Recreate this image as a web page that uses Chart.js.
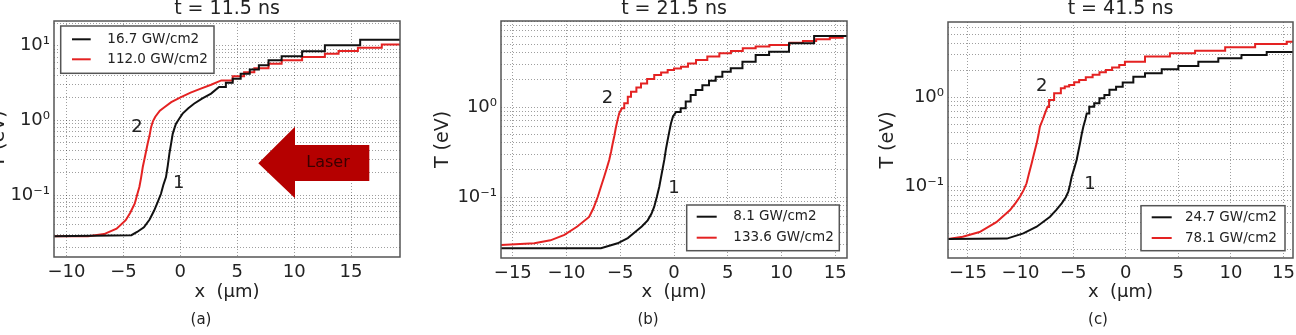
<!DOCTYPE html>
<html><head><meta charset="utf-8">
<script src="https://cdn.jsdelivr.net/npm/chart.js@4.4.1/dist/chart.umd.min.js"></script>
<style>
html,body{margin:0;padding:0;background:#fff;width:1296px;height:335px;overflow:hidden;position:relative;}
canvas{position:absolute;top:0;}
</style></head><body>
<canvas id="ca" width="442" height="335" style="left:-12px"></canvas>
<canvas id="cb" width="440" height="335" style="left:430px"></canvas>
<canvas id="cc" width="426" height="335" style="left:870px"></canvas>
<script>
// ---------- data ----------
const titles = ['t = 11.5 ns', 't = 21.5 ns', 't = 41.5 ns'];
const subLabels = ['(a)', '(b)', '(c)'];
const xAxisLabel = 'x  (\u03bcm)';
const yAxisLabel = 'T (eV)';

const legendA = ['16.7 GW/cm2', '112.0 GW/cm2'];
const legendB = ['8.1 GW/cm2', '133.6 GW/cm2'];
const legendC = ['24.7 GW/cm2', '78.1 GW/cm2'];

const xTicksA = [-10, -5, 0, 5, 10, 15];
const xTicksBC = [-15, -10, -5, 0, 5, 10, 15];

// panel (a)
const xA1 = [-11.1, -4.3, -3.8, -3.2, -2.7, -2.3, -2.0, -1.7, -1.5, -1.26, -1.1, -0.96, -0.8, -0.67, -0.5, -0.38, -0.1, 0.2, 0.7, 1.2, 1.9, 2.7, 3.4, 4.0, 4.6, 5.3, 6.1, 6.9, 7.75, 8.9, 10.7, 12.7, 15.8, 19.3];
const yA1 = [0.028, 0.029, 0.032, 0.037, 0.047, 0.062, 0.08, 0.104, 0.135, 0.174, 0.25, 0.36, 0.5, 0.66, 0.8, 0.9, 1.05, 1.23, 1.45, 1.67, 1.95, 2.28, 2.8, 3.2, 3.6, 4.2, 4.8, 5.45, 6.36, 7.2, 8.4, 10.1, 12.0, 12.0];
const stepA1 = 4.0;
const xA2 = [-11.1, -8.1, -6.7, -5.6, -4.8, -4.4, -4.0, -3.8, -3.6, -3.45, -3.3, -3.1, -2.87, -2.7, -2.57, -2.4, -2.2, -1.8, -1.4, -0.8, 0.06, 0.9, 1.8, 2.7, 3.6, 4.6, 5.6, 6.5, 7.75, 8.9, 10.7, 12.7, 13.9, 15.6, 17.7, 19.3];
const yA2 = [0.028, 0.028, 0.030, 0.0355, 0.046, 0.058, 0.077, 0.10, 0.128, 0.17, 0.237, 0.33, 0.49, 0.63, 0.81, 0.98, 1.12, 1.35, 1.5, 1.75, 2.05, 2.35, 2.66, 3.0, 3.43, 3.9, 4.4, 5.0, 5.74, 6.36, 7.03, 7.8, 8.47, 9.4, 10.4, 10.4];
const stepA2 = 4.6;

// panel (b)
const xB1 = [-16.1, -6.8, -5.25, -4.3, -3.7, -3.0, -2.45, -2.1, -1.84, -1.6, -1.37, -1.15, -0.9, -0.75, -0.59, -0.43, -0.28, -0.1, 0.19, 0.62, 1.09, 1.55, 2.02, 2.64, 3.26, 3.88, 4.5, 5.28, 6.37, 7.6, 8.85, 10.7, 13.04, 16.1];
const yB1 = [0.027, 0.027, 0.0306, 0.035, 0.04, 0.047, 0.055, 0.065, 0.078, 0.1, 0.13, 0.18, 0.26, 0.34, 0.43, 0.54, 0.66, 0.78, 0.88, 0.97, 1.15, 1.36, 1.55, 1.75, 1.96, 2.17, 2.47, 2.69, 3.19, 3.78, 4.12, 5.1, 6.15, 6.15];
const stepB1 = 0.62;
const xB2 = [-16.1, -13.0, -11.5, -10.2, -9.0, -7.9, -7.5, -7.1, -6.8, -6.5, -6.25, -6.03, -5.85, -5.71, -5.55, -5.4, -5.25, -5.1, -4.85, -4.63, -4.3, -4.0, -3.5, -3.07, -2.5, -1.84, -1.2, -0.59, 0.0, 0.65, 1.3, 2.05, 3.1, 4.22, 5.3, 6.4, 7.6, 8.88, 10.75, 12.0, 13.23, 14.5, 15.7, 16.1];
const yB2 = [0.0293, 0.0306, 0.033, 0.038, 0.047, 0.06, 0.075, 0.10, 0.13, 0.168, 0.21, 0.258, 0.32, 0.39, 0.48, 0.60, 0.72, 0.85, 0.97, 1.1, 1.3, 1.48, 1.65, 1.83, 2.05, 2.27, 2.42, 2.57, 2.68, 2.8, 3.05, 3.33, 3.65, 3.95, 4.2, 4.49, 4.7, 4.89, 5.18, 5.4, 5.65, 5.9, 6.15, 6.15];
const stepB2 = -4.63;

// panel (c)
const xC1 = [-16.9, -11.3, -9.74, -8.47, -7.2, -6.6, -6.09, -5.7, -5.46, -5.3, -5.14, -4.9, -4.67, -4.5, -4.35, -4.2, -4.03, -3.85, -3.71, -3.47, -3.0, -2.5, -2.03, -1.55, -0.92, -0.29, 0.72, 1.83, 3.42, 5.0, 6.9, 8.8, 11.0, 13.4, 15.9];
const yC1 = [0.0259, 0.0262, 0.030, 0.0356, 0.046, 0.055, 0.065, 0.076, 0.088, 0.105, 0.129, 0.16, 0.199, 0.25, 0.305, 0.38, 0.47, 0.56, 0.66, 0.785, 0.857, 0.975, 1.06, 1.21, 1.31, 1.46, 1.70, 1.85, 2.06, 2.24, 2.50, 2.73, 2.97, 3.21, 3.21];
const stepC1 = -3.47;
const xC2 = [-16.9, -15.5, -13.9, -12.3, -11.0, -10.5, -10.06, -9.7, -9.43, -9.2, -8.95, -8.7, -8.47, -8.3, -8.16, -7.9, -7.68, -7.45, -7.29, -6.81, -6.17, -5.8, -5.38, -4.9, -4.43, -3.8, -3.15, -2.5, -1.89, -1.3, -0.62, -0.08, 1.83, 4.2, 6.59, 9.45, 12.3, 15.3, 15.9];
const yC2 = [0.0259, 0.0275, 0.031, 0.040, 0.0547, 0.065, 0.077, 0.092, 0.109, 0.14, 0.182, 0.24, 0.305, 0.38, 0.47, 0.56, 0.66, 0.78, 0.93, 1.11, 1.26, 1.32, 1.37, 1.47, 1.56, 1.67, 1.78, 1.9, 2.02, 2.15, 2.3, 2.5, 2.85, 3.1, 3.32, 3.62, 3.95, 4.19, 4.19];
const stepC2 = -7.29;

// ---------- styling / layout ----------
const FONT = '"DejaVu Sans", "Liberation Sans", sans-serif';
const TXT = '#222';
const BLACK = '#111';
const RED = '#e42222';
const SUP = {'-': '\u207b', '0': '\u2070', '1': '\u00b9', '2': '\u00b2', '3': '\u00b3'};

function fmtX(v) { return v < 0 ? '\u2212' + Math.abs(v) : String(v); }
function fmtY(v) {
  const e = Math.round(Math.log10(v));
  if (Math.abs(v - Math.pow(10, e)) > 1e-9 * v) return '';
  return '10' + String(e).split('').map(c => SUP[c]).join('');
}
function logTicks(min, max) {
  const out = [];
  for (let e = -3; e <= 2; e++) for (let m = 1; m <= 9; m++) {
    const v = m * Math.pow(10, e);
    if (v >= min * 0.9999 && v <= max * 1.0001) out.push({value: v});
  }
  return out;
}
// points; from stepFrom on, the profile is drawn as a staircase (zone values)
function buildData(xs, ys, stepFrom) {
  const d = [];
  for (let i = 0; i < xs.length; i++) {
    if (i > 0 && xs[i] >= stepFrom - 1e-9) d.push({x: xs[i], y: ys[i - 1]});
    d.push({x: xs[i], y: ys[i]});
  }
  return d;
}

const decor = {
  id: 'decor',
  afterDraw(chart, args, o) {
    const {ctx, chartArea: ca, scales} = chart;
    const cx = (ca.left + ca.right) / 2;
    ctx.save();
    ctx.strokeStyle = '#555'; ctx.lineWidth = 1.5;
    ctx.strokeRect(ca.left, ca.top, ca.right - ca.left, ca.bottom - ca.top);
    ctx.fillStyle = TXT; ctx.textAlign = 'center'; ctx.textBaseline = 'middle';
    ctx.font = '19px ' + FONT;
    ctx.fillText(o.title, cx, o.titleY);
    ctx.font = '15px ' + FONT;
    ctx.fillText(o.sub, cx + o.subDx, o.subY);
    ctx.font = '18px ' + FONT;
    o.marks.forEach(m => ctx.fillText(m.t, scales.x.getPixelForValue(m.x), scales.y.getPixelForValue(m.y)));
    if (o.arrow) {
      const a = o.arrow, L = ca.left, T = ca.top;
      ctx.fillStyle = '#b50000';
      ctx.beginPath();
      ctx.moveTo(L + a.tipX, T + a.tipY);
      ctx.lineTo(L + a.headX, T + a.headTop);
      ctx.lineTo(L + a.headX, T + a.shaftTop);
      ctx.lineTo(L + a.shaftRight, T + a.shaftTop);
      ctx.lineTo(L + a.shaftRight, T + a.shaftBot);
      ctx.lineTo(L + a.headX, T + a.shaftBot);
      ctx.lineTo(L + a.headX, T + a.headBot);
      ctx.closePath();
      ctx.fill();
      ctx.fillStyle = '#3a0000';
      ctx.font = '16px ' + FONT;
      ctx.fillText(a.text, L + a.textX, T + a.textY);
    }
    const g = o.legend;
    const bx = g.right !== undefined ? ca.right - g.right - g.w : ca.left + g.left;
    const by = g.bottom !== undefined ? ca.bottom - g.bottom - g.h : ca.top + g.top;
    ctx.fillStyle = '#fff'; ctx.fillRect(bx, by, g.w, g.h);
    ctx.strokeStyle = '#555'; ctx.lineWidth = 1.5; ctx.strokeRect(bx, by, g.w, g.h);
    ctx.textAlign = 'left';
    ctx.font = '13.5px ' + FONT;
    chart.data.datasets.forEach((ds, i) => {
      const y = by + g.row0 + i * g.dy;
      ctx.strokeStyle = ds.borderColor; ctx.lineWidth = 2;
      ctx.beginPath(); ctx.moveTo(bx + g.l0, y); ctx.lineTo(bx + g.l1, y); ctx.stroke();
      ctx.fillStyle = TXT;
      ctx.fillText(ds.label, bx + g.tx, y);
    });
    ctx.restore();
  }
};

function makeChart(id, p) {
  const gridCol = 'rgba(0,0,0,0.38)';
  return new Chart(document.getElementById(id), {
    type: 'line',
    data: {
      datasets: p.series.map(s => ({
        label: s.label,
        data: buildData(s.x, s.y, s.step),
        borderColor: s.color, backgroundColor: s.color,
        borderWidth: 2, pointRadius: 0, tension: 0, fill: false
      }))
    },
    options: {
      responsive: false, animation: false, events: [],
      layout: {padding: {left: 0, right: p.padRight, top: p.padTop, bottom: p.padBottom}},
      plugins: {legend: {display: false}, tooltip: {enabled: false}, decor: p.decor},
      scales: {
        x: {
          type: 'linear', min: p.xMin, max: p.xMax,
          afterBuildTicks: s => { s.ticks = p.xTicks.map(v => ({value: v})); },
          afterFit: s => { s.height = p.xH; s.paddingLeft = 0; s.paddingRight = 0; },
          ticks: {autoSkip: false, maxRotation: 0, padding: 5, color: TXT, font: {family: FONT, size: 18}, callback: v => fmtX(v)},
          grid: {color: gridCol, lineWidth: 1, drawTicks: false},
          border: {display: false, dash: [1, 2]},
          title: {display: true, text: xAxisLabel, color: TXT, font: {family: FONT, size: 18}, padding: {top: 0, bottom: 0}}
        },
        y: {
          type: 'logarithmic', min: p.yMin, max: p.yMax,
          afterBuildTicks: s => { s.ticks = logTicks(p.yMin, p.yMax); },
          afterFit: s => { s.width = p.yW; s.paddingTop = 0; s.paddingBottom = 0; },
          ticks: {autoSkip: false, padding: 4, color: TXT, font: {family: FONT, size: 18}, callback: v => fmtY(v)},
          grid: {color: gridCol, lineWidth: 1, drawTicks: false},
          border: {display: false, dash: [1, 2]},
          title: {display: true, text: yAxisLabel, color: TXT, font: {family: FONT, size: 19}, padding: {top: p.yTitlePad, bottom: 0}}
        }
      }
    },
    plugins: [decor]
  });
}

makeChart('ca', {
  series: [{label: legendA[0], x: xA1, y: yA1, step: stepA1, color: BLACK}, {label: legendA[1], x: xA2, y: yA2, step: stepA2, color: RED}],
  xMin: -11.1, xMax: 19.3, yMin: 0.0148, yMax: 21.4, xTicks: xTicksA,
  padRight: 30, padTop: 21, padBottom: 32, xH: 46, yW: 66, yTitlePad: 0,
  decor: {
    title: titles[0], titleY: 9, sub: subLabels[0], subDx: -26, subY: 320,
    marks: [{t: '2', x: -3.8, y: 0.81}, {t: '1', x: -0.15, y: 0.142}],
    arrow: {tipX: 204.3, tipY: 142.3, headX: 241, headTop: 105.7, headBot: 177.3, shaftTop: 124, shaftBot: 160, shaftRight: 315.3, text: 'Laser', textX: 274, textY: 142},
    legend: {left: 6.7, top: 5, w: 153.3, h: 47.3, l0: 11.3, l1: 30, tx: 46.6, row0: 13.3, dy: 20}
  }
});
makeChart('cb', {
  series: [{label: legendB[0], x: xB1, y: yB1, step: stepB1, color: BLACK}, {label: legendB[1], x: xB2, y: yB2, step: stepB2, color: RED}],
  xMin: -16.1, xMax: 16.1, yMin: 0.021, yMax: 9.03, xTicks: xTicksBC,
  padRight: 23, padTop: 21, padBottom: 32, xH: 45, yW: 71, yTitlePad: 1.7,
  decor: {
    title: titles[1], titleY: 9, sub: subLabels[1], subDx: -26, subY: 320,
    marks: [{t: '2', x: -6.2, y: 1.25}, {t: '1', x: 0, y: 0.125}],
    legend: {right: 7.7, bottom: 7.3, w: 152.6, h: 45.7, l0: 10, l1: 30, tx: 46.6, row0: 11.7, dy: 21}
  }
});
makeChart('cc', {
  series: [{label: legendC[0], x: xC1, y: yC1, step: stepC1, color: BLACK}, {label: legendC[1], x: xC2, y: yC2, step: stepC2, color: RED}],
  xMin: -16.9, xMax: 15.9, yMin: 0.0159, yMax: 6.95, xTicks: xTicksBC,
  padRight: 3, padTop: 22, padBottom: 32, xH: 45, yW: 78, yTitlePad: 6.7,
  decor: {
    title: titles[2], titleY: 9, sub: subLabels[2], subDx: -22.5, subY: 320,
    marks: [{t: '2', x: -8.0, y: 1.31}, {t: '1', x: -3.4, y: 0.105}],
    legend: {right: 8, bottom: 7.3, w: 144, h: 45, l0: 10.7, l1: 30.7, tx: 44, row0: 11.6, dy: 20.7}
  }
});
</script>
</body></html>
